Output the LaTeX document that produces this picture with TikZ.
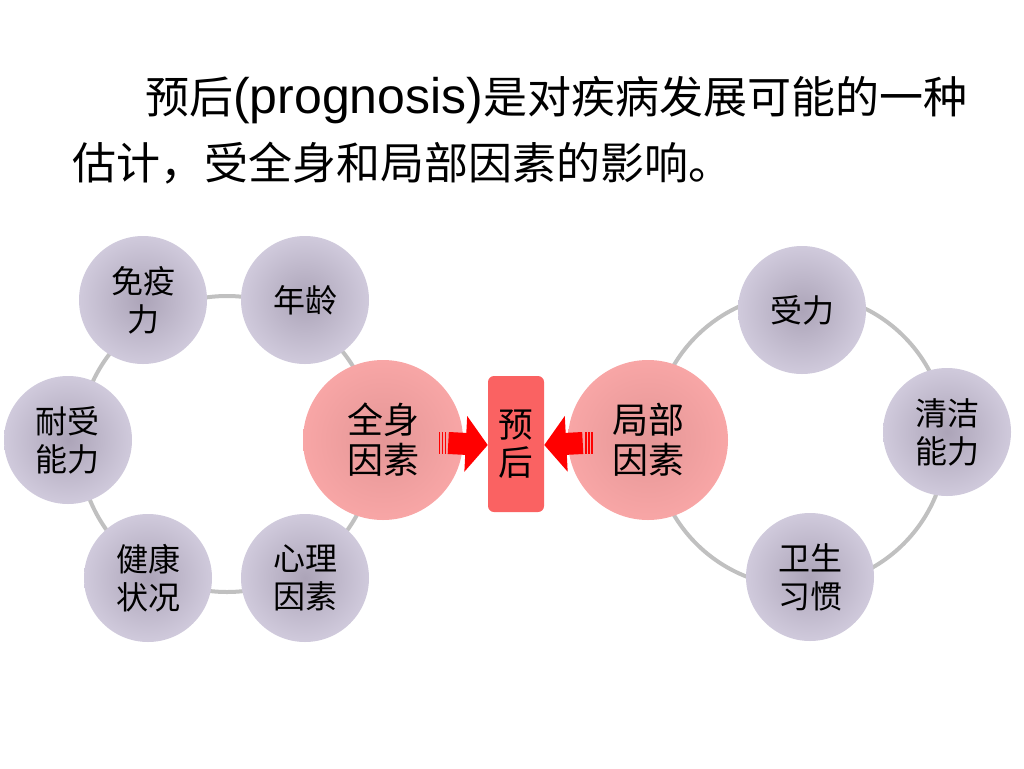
\documentclass[tikz,border=0pt]{standalone}
\usepackage{fontspec}
\setmainfont{Liberation Sans}
\newfontfamily\cjk{Noto Sans CJK SC}
\usetikzlibrary{arrows.meta}

\definecolor{ringgray}{RGB}{192,192,192}
\definecolor{lavout}{RGB}{208,202,220}
\definecolor{lavin}{RGB}{172,164,184}
\definecolor{pinkout}{RGB}{248,166,166}
\definecolor{pinkin}{RGB}{228,150,150}
\definecolor{boxred}{RGB}{250,98,98}

\begin{document}
\begin{tikzpicture}[x=0.75pt,y=-0.75pt,
		gray_style/.style={circle,minimum size=96pt,inner sep=0pt,align=center,
			shading=radial,inner color=lavin,outer color=lavout,
			font=\cjk\fontsize{24}{28.5}\selectfont},
		pink_style/.style={circle,minimum size=120pt,inner sep=0pt,align=center,
			shading=radial,inner color=pinkin,outer color=pinkout,
			font=\cjk\fontsize{27}{30}\selectfont},
		box_style/.style={rectangle,rounded corners=4.5pt,minimum width=42pt,minimum height=102pt,
			inner sep=0pt,align=center,fill=boxred,font=\cjk\fontsize{26}{28}\selectfont},
		ring_style/.style={draw=ringgray,line width=3pt},
		arrow_style/.style={draw=red,line width=16.5pt,-{Triangle[length=16.5pt,width=41pt]}},
		title_style/.style={anchor=west,inner sep=0pt,font=\fontsize{33}{40}\selectfont}]
		
		\useasboundingbox (0,0) rectangle (1024,768);
		
		% title
		\node[title_style] (t1) at (145,100) {{\cjk 预后}{\fontsize{37.5}{40}\selectfont(prognosis)}{\cjk 是对疾病发展可能的一种}};
		\node[title_style] (t2) at (72,163) {\cjk 估计，受全身和局部因素的影响。};
		
		% rings
		\coordinate (lc) at (227,444);
		\coordinate (rc) at (800,440);
		\draw[ring_style] (lc) circle[radius=111pt];
		\draw[ring_style] (rc) circle[radius=110pt];
		
		% left side
		\node[gray_style] (my) at (143,300) {免疫\\力};
		\node[gray_style] (nl) at (305,300) {年龄};
		\node[gray_style] (ns) at (68,440) {耐受\\能力};
		\node[gray_style] (jk) at (148,578) {健康\\状况};
		\node[gray_style] (xl) at (305,578) {心理\\因素};
		\node[pink_style] (qs) at (383,440) {全身\\因素};
		
		% right side
		\node[gray_style] (sl) at (802,310) {受力};
		\node[gray_style] (qj) at (947,432) {清洁\\能力};
		\node[gray_style] (ws) at (810,577) {卫生\\习惯};
		\node[pink_style] (jb) at (648,440) {局部\\因素};
		
		% centre
		\node[box_style] (yh) at (516,444) {预\\后};
		
		\draw[arrow_style] ([xshift=-11.25pt,yshift=-2.25pt]qs.east) -- ([yshift=-0.75pt]yh.west);
		\draw[arrow_style] ([xshift=11.25pt,yshift=-2.25pt]jb.west) -- ([yshift=-0.75pt]yh.east);
		\foreach \x in {438.5,441.5,444.5,585,588,591}
			\fill[red] (\x,432) rectangle ++(1.6,22);

\end{tikzpicture}
\end{document}
